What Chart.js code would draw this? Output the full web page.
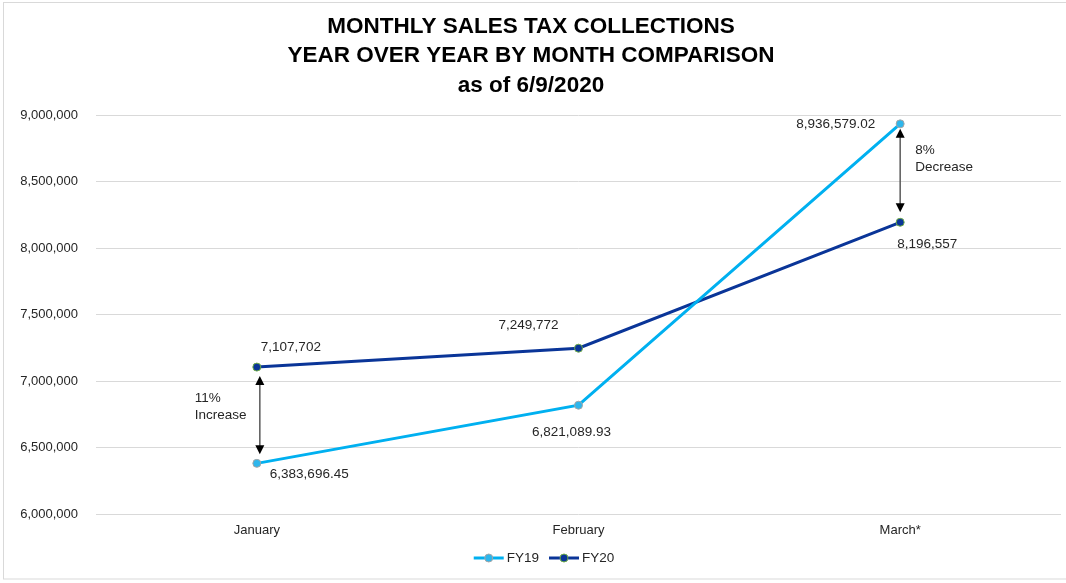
<!DOCTYPE html>
<html>
<head>
<meta charset="utf-8">
<script src="https://cdn.jsdelivr.net/npm/chart.js@4.4.1/dist/chart.umd.min.js"></script>
<style>
  html, body { margin: 0; padding: 0; background: #fff; }
  #wrap { width: 1066px; height: 583px; position: relative; }
</style>
</head>
<body>
<div id="wrap"><canvas id="chart-sales-tax"></canvas></div>
<script>
// ── Monthly sales tax, FY19 vs FY20 ──────────────────────────────
const months = ['January', 'February', 'March*'];
const fy19 = [6383696.45, 6821089.93, 8936579.02];
const fy20 = [7107702, 7249772, 8196557];
const fy19Labels = ['6,383,696.45', '6,821,089.93', '8,936,579.02'];
const fy20Labels = ['7,107,702', '7,249,772', '8,196,557'];
const yTicks = [6000000, 6500000, 7000000, 7500000, 8000000, 8500000, 9000000];
const notes = [
  { month: 0, lines: ['11%', 'Increase'] },
  { month: 2, lines: ['8%', 'Decrease'] },
];

const FONT = '"Liberation Sans", Arial, sans-serif';
const TEXT = '#262626';

// labels per point, offsets tuned to the original layout
const labelPlacement = {
  0: [ { dx: 13, dy: 11, align: 'left' }, { dx: -7, dy: 27, align: 'center' }, { dx: -25, dy: 0, align: 'right' } ],
  1: [ { dx: 4, dy: -20, align: 'left' }, { dx: -20, dy: -23, align: 'right' }, { dx: -3, dy: 22, align: 'left' } ],
};

function drawSwatch(ctx, x, y, ds) {
  ctx.strokeStyle = ds.borderColor; ctx.lineWidth = 3;
  ctx.beginPath(); ctx.moveTo(x, y); ctx.lineTo(x + 30, y); ctx.stroke();
  ctx.fillStyle = ds.pointBackgroundColor; ctx.strokeStyle = ds.pointBorderColor; ctx.lineWidth = 1;
  ctx.beginPath(); ctx.arc(x + 15, y, 4, 0, Math.PI * 2); ctx.fill(); ctx.stroke();
}

const overlays = {
  id: 'overlays',
  beforeDraw(chart) {
    const ctx = chart.ctx;
    ctx.save();
    ctx.strokeStyle = '#d9d9d9'; ctx.lineWidth = 1;
    ctx.strokeRect(3.5, 2.5, 1070, 576.5);
    ctx.restore();
  },
  afterDatasetsDraw(chart) {
    const ctx = chart.ctx;
    const xs = chart.scales.x, ys = chart.scales.y;
    ctx.save();
    ctx.font = '13.5px ' + FONT;
    ctx.fillStyle = TEXT;
    ctx.textBaseline = 'middle';
    const texts = [fy19Labels, fy20Labels];
    chart.data.datasets.forEach((ds, di) => {
      ds.data.forEach((v, i) => {
        const p = labelPlacement[di][i];
        ctx.textAlign = p.align;
        ctx.fillText(texts[di][i], xs.getPixelForValue(i) + p.dx, ys.getPixelForValue(v) + p.dy);
      });
    });

    // change arrows between the two years
    for (const n of notes) {
      const x = xs.getPixelForValue(n.month) + (n.month === 0 ? 3 : 0);
      const yA = ys.getPixelForValue(Math.max(fy19[n.month], fy20[n.month]));
      const yB = ys.getPixelForValue(Math.min(fy19[n.month], fy20[n.month]));
      const top = yA + (n.month === 0 ? 9 : 5);
      const bot = yB - (n.month === 0 ? 9 : 10);
      ctx.strokeStyle = '#595959'; ctx.lineWidth = 1.5;
      ctx.beginPath(); ctx.moveTo(x, top + 6); ctx.lineTo(x, bot - 6); ctx.stroke();
      ctx.fillStyle = '#000';
      ctx.beginPath(); ctx.moveTo(x, top); ctx.lineTo(x - 4.5, top + 9); ctx.lineTo(x + 4.5, top + 9); ctx.closePath(); ctx.fill();
      ctx.beginPath(); ctx.moveTo(x, bot); ctx.lineTo(x - 4.5, bot - 9); ctx.lineTo(x + 4.5, bot - 9); ctx.closePath(); ctx.fill();
      const mid = (yA + yB) / 2;
      ctx.fillStyle = TEXT; ctx.textAlign = 'left';
      const tx = n.month === 0 ? x - 65 : x + 15;
      const ty = n.month === 0 ? mid - 17 : mid - 23;
      ctx.fillText(n.lines[0], tx, ty);
      ctx.fillText(n.lines[1], tx, ty + 17);
    }

    // legend: line+dot swatch, tight text, a bit right of centre like the original
    ctx.font = '13.5px ' + FONT;
    const items = chart.data.datasets.map(ds => ({ ds, w: 30 + 3 + ctx.measureText(ds.label).width }));
    const total = items.reduce((s, it) => s + it.w, 0) + 10 * (items.length - 1);
    let lx = chart.width / 2 + 11 - total / 2;
    const ly = 558;
    for (const it of items) {
      drawSwatch(ctx, lx, ly, it.ds);
      ctx.fillStyle = TEXT; ctx.textAlign = 'left';
      ctx.fillText(it.ds.label, lx + 33, ly);
      lx += it.w + 10;
    }
    ctx.restore();
  },
};

new Chart(document.getElementById('chart-sales-tax'), {
  type: 'line',
  data: {
    labels: months,
    datasets: [
      {
        label: 'FY19', data: fy19,
        borderColor: '#00b0f0', borderWidth: 3,
        pointRadius: 4, pointBackgroundColor: '#2eb6ec', pointBorderColor: '#a5a5a5', pointBorderWidth: 1,
        pointStyle: 'circle', tension: 0,
      },
      {
        label: 'FY20', data: fy20,
        borderColor: '#0a3598', borderWidth: 3,
        pointRadius: 4, pointBackgroundColor: '#0a3598', pointBorderColor: '#70ad47', pointBorderWidth: 1,
        pointStyle: 'circle', tension: 0,
      },
    ],
  },
  options: {
    responsive: true, maintainAspectRatio: false, animation: false,
    devicePixelRatio: 1,
    layout: { padding: { left: 0, right: 4, top: 0, bottom: 37 } },
    plugins: {
      title: {
        display: true,
        text: ['MONTHLY SALES TAX COLLECTIONS', 'YEAR OVER YEAR BY MONTH COMPARISON', 'as of 6/9/2020'],
        color: '#000',
        font: { family: FONT, size: 22.5, weight: 'bold', lineHeight: 1.31 },
        padding: { top: 12, bottom: 15 },
      },
      legend: { display: false },
      tooltip: { enabled: false },
    },
    scales: {
      x: {
        offset: true,
        grid: { display: false, drawTicks: false },
        border: { display: false },
        ticks: { color: TEXT, font: { family: FONT, size: 13 }, padding: 8 },
      },
      y: {
        min: yTicks[0], max: yTicks[yTicks.length - 1],
        afterBuildTicks: s => { s.ticks = yTicks.map(v => ({ value: v })); },
        afterFit: s => { s.width = 96; },
        grid: { color: '#d9d9d9', drawTicks: false },
        border: { display: false },
        ticks: {
          color: TEXT, font: { family: FONT, size: 13 }, padding: 18,
          callback: v => v.toLocaleString('en-US'),
        },
      },
    },
  },
  plugins: [overlays],
});
</script>
</body>
</html>
